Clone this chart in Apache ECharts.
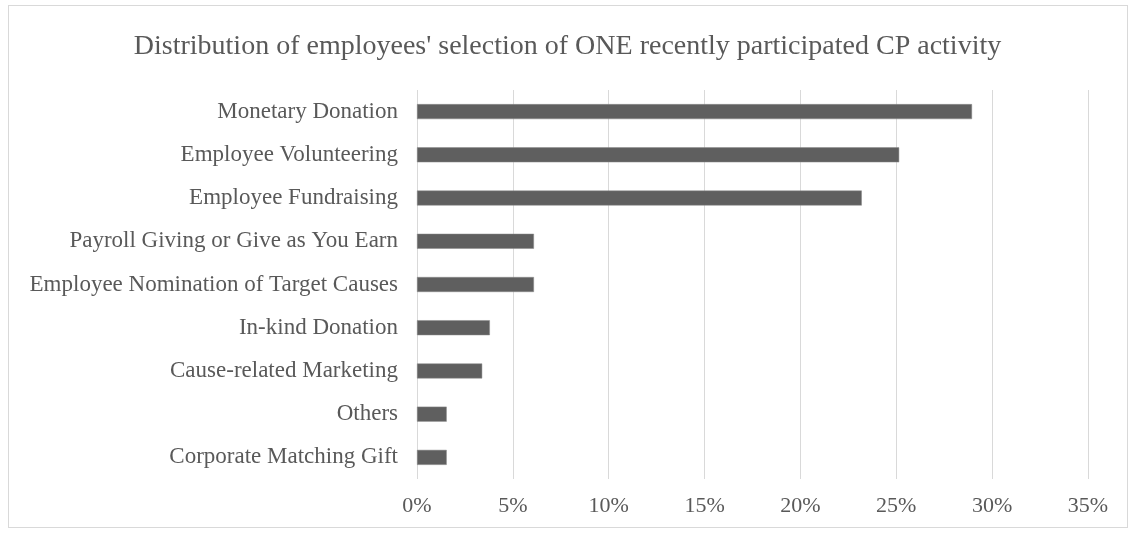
<!DOCTYPE html>
<html>
<head>
<meta charset="utf-8">
<script src="https://cdn.jsdelivr.net/npm/echarts@6/dist/echarts.min.js"></script>
<style>
html,body{margin:0;padding:0;background:#fff;}
#frame{position:absolute;left:8px;top:5px;width:1120px;height:523px;border:1px solid #d9d9d9;box-sizing:border-box;}
#chart{position:absolute;left:0;top:0;width:1135px;height:534px;}
</style>
</head>
<body>
<div id="frame"></div>
<div id="chart"></div>
<script>
const titleText = "Distribution of employees' selection of ONE recently participated CP activity";
const categories = [
  "Monetary Donation",
  "Employee Volunteering",
  "Employee Fundraising",
  "Payroll Giving or Give as You Earn",
  "Employee Nomination of Target Causes",
  "In-kind Donation",
  "Cause-related Marketing",
  "Others",
  "Corporate Matching Gift"
];
const values = [28.95, 25.15, 23.2, 6.1, 6.1, 3.8, 3.4, 1.55, 1.55];
const xMin = 0, xMax = 35, xStep = 5;

const font = '"Liberation Serif", "Times New Roman", serif';
const chart = echarts.init(document.getElementById('chart'));
chart.setOption({
  animation: false,
  title: {
    text: titleText,
    left: 'center',
    top: 28,
    textStyle: {fontFamily: font, fontSize: 28, fontWeight: 'normal', color: '#595959'}
  },
  grid: {left: 417, right: 47, top: 90, bottom: 55, containLabel: false},
  xAxis: {
    type: 'value', min: xMin, max: xMax, interval: xStep,
    axisLine: {show: false}, axisTick: {show: false},
    axisLabel: {formatter: v => v + '%', fontFamily: font, fontSize: 22, color: '#595959', margin: 16},
    splitLine: {show: true, lineStyle: {color: '#d9d9d9', width: 1}}
  },
  yAxis: {
    type: 'category', data: categories, inverse: true,
    axisLine: {show: false}, axisTick: {show: false},
    axisLabel: {fontFamily: font, fontSize: 23, color: '#595959', margin: 19, padding: [3, 0, 0, 0]}
  },
  series: [{
    type: 'bar', data: values, barWidth: 15,
    itemStyle: {color: '#5f5f5f', borderColor: '#8a8a8a', borderWidth: 0.5}
  }]
});
</script>
</body>
</html>
